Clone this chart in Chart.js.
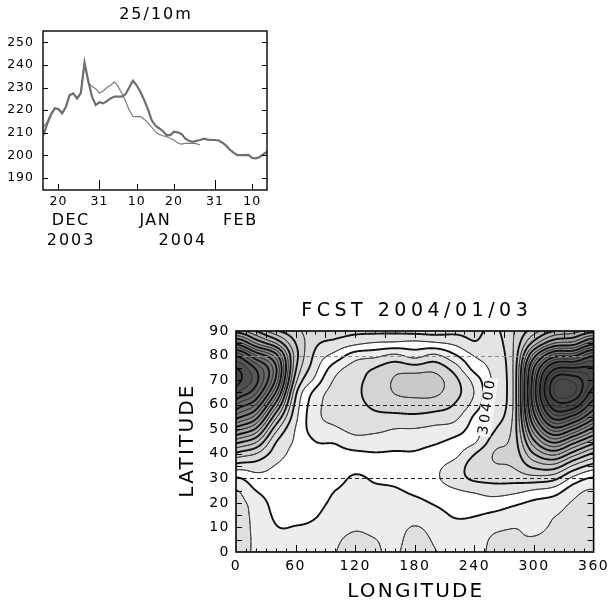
<!DOCTYPE html>
<html>
<head>
<meta charset="utf-8">
<script src="https://cdn.jsdelivr.net/npm/chart.js@4.4.1/dist/chart.umd.min.js"></script>
<style>
  html, body { margin: 0; padding: 0; background: #fff; }
  #wrap { position: relative; width: 613px; height: 603px; overflow: hidden; }
  #ts { position: absolute; left: 0; top: 0; }
  #map { position: absolute; left: 170px; top: 290px; }
</style>
</head>
<body>
<div id="wrap">
  <canvas id="ts" width="280" height="250"></canvas>
  <canvas id="map" width="443" height="313"></canvas>
</div>
<script>
// ---------- top panel: 25/10m temperature, x = days counted from 1 Dec 2003 ----------
let firstDay = 15;
let analysis = [209, 214, 218, 220.8, 220.5, 218.6, 221.5, 226.7, 227.4, 225.2,
  227.5, 241, 233, 226, 222.3, 223.5, 223, 224, 225.2, 226,
  226, 226, 227, 230, 233, 231, 228, 224.5, 220.5, 215.6,
  213.2, 212, 210.8, 209, 209, 210.5, 210.2, 209.5, 207.5, 206.5,
  206, 206.4, 206.8, 207.4, 207, 206.8, 206.8, 206.6, 205.6, 204.3,
  202.5, 201.2, 200.1, 200.1, 200.1, 200.2, 198.9, 198.7, 199.3, 200.6, 201.6];
let forecast = [212.5, 215, 218.5, 221, 220.5, 218.6, 221.5, 226.5, 227.2, 225,
  227.5, 241, 232, 230.5, 229.5, 227.5, 228.5, 230, 231, 232.5,
  230.5, 227.5, 224, 220, 217.2, 217.1, 217.1, 216, 214.5, 212.5,
  210.5, 209.3, 208.7, 208.3, 207.6, 206.8, 205.5, 205, 205.3, 205.3,
  205.3, 205.2, 204.6];
let tickDays = [19, 30, 40, 50, 61, 71];
let tickLabels = ["20", "31", "10", "20", "31", "10"];
let longTickDays = [30, 61];
let monthNames = ["DEC", "JAN", "FEB"];
let monthDays = [22.3, 45, 67.8];
let yearNames = ["2003", "2004"];
let yearDays = [22.4, 52.4];
let tempTicks = [190, 200, 210, 220, 230, 240, 250];

// ---------- bottom panel: height field, one array per longitude, lat 0..90 step 5 ----------
let gridLats = [0, 5, 10, 15, 20, 25, 30, 35, 40, 45, 50, 55, 60, 65, 70, 75, 80, 85, 90];
let gridLons = [0, 20, 40, 60, 80, 100, 120, 140, 160, 180, 200, 220, 240, 260, 280, 300, 320, 340];
let lon000 = [2.4, 2.4, 2.4, 2.35, 2.3, 2.05, 1.1, -0.6, -2.8, -5.5, -8.5, -11.5, -14.0, -16.3, -17.5, -17.0, -14.8, -10.5, -6.5];
let lon020 = [1.85, 1.85, 1.8, 1.75, 1.6, 1.0, 0.35, -0.5, -2.0, -4.2, -6.8, -9.5, -12.0, -14.2, -15.4, -14.8, -12.0, -8.0, -5.0];
let lon040 = [1.35, 1.25, 1.05, 0.85, 0.65, 0.45, 0.25, 0.05, -0.5, -1.1, -2.4, -4.3, -6.6, -9.0, -10.8, -11.2, -9.5, -6.0, -3.2];
let lon060 = [1.3, 1.2, 1.03, 0.8, 0.6, 0.5, 0.45, 0.4, 0.3, 0.15, 0.05, -0.3, -0.7, -1.3, -2.4, -3.2, -3.5, -3.0, -2.2];
let lon080 = [1.4, 1.3, 1.15, 0.95, 0.8, 0.7, 0.6, 0.55, 0.65, 1.0, 1.5, 1.7, 1.6, 1.3, 0.3, -0.35, -0.75, -1.2, -1.6];
let lon100 = [1.98, 1.85, 1.6, 1.35, 1.15, 1.0, 0.75, 0.6, 0.75, 1.1, 1.85, 2.3, 2.45, 2.4, 2.15, 1.5, 0.35, -0.7, -1.5];
let lon120 = [2.35, 2.2, 1.9, 1.6, 1.4, 1.25, 1.1, 0.8, 0.85, 1.6, 2.3, 2.65, 2.8, 2.85, 2.75, 2.45, 1.5, -0.2, -1.3];
let lon140 = [2.1, 2.02, 1.75, 1.5, 1.3, 1.15, 0.9, 0.7, 0.95, 1.5, 2.25, 2.8, 3.15, 3.35, 3.35, 3.0, 1.75, 0.1, -1.3];
let lon160 = [1.9, 1.8, 1.7, 1.5, 1.3, 1.1, 0.75, 0.6, 0.9, 1.4, 1.98, 2.75, 3.5, 4.05, 4.1, 3.6, 2.2, 0.2, -1.3];
let lon180 = [2.4, 2.3, 2.05, 1.6, 1.25, 0.8, 0.4, 0.5, 0.9, 1.35, 1.95, 2.8, 3.6, 4.25, 4.5, 3.4, 1.65, 0.3, -1.4];
let lon200 = [2.05, 1.9, 1.7, 1.4, 0.9, 0.45, 0.15, 0.2, 0.6, 1.15, 1.75, 2.6, 3.5, 4.2, 4.35, 3.6, 2.2, 0.15, -1.5];
let lon220 = [1.6, 1.5, 1.3, 0.9, 0.45, 0.1, -0.5, -0.35, 0.3, 0.75, 1.5, 2.3, 2.95, 3.4, 3.3, 2.5, 1.15, -0.2, -1.3];
let lon240 = [1.55, 1.5, 1.35, 0.95, 0.45, -0.15, -1.2, -1.5, -0.95, 0.15, 0.5, 0.85, 1.6, 1.95, 1.6, 0.6, -0.05, -0.9, -1.3];
let lon260 = [2.3, 2.15, 1.8, 1.2, 0.45, -0.45, -1.35, -1.9, -2.05, -1.55, -0.9, -0.5, -0.35, -0.3, -0.3, -0.35, -0.4, -0.55, -0.8];
let lon280 = [2.1, 2.05, 1.98, 1.5, 0.8, -0.3, -1.4, -2.1, -2.4, -2.5, -2.5, -2.4, -2.3, -2.3, -2.3, -2.3, -2.2, -2.1, -2.0];
let lon300 = [2.15, 2.05, 1.85, 1.6, 1.2, 0.1, -1.6, -3.3, -5.0, -6.8, -8.7, -10.5, -11.8, -12.3, -12.0, -11.0, -8.5, -5.5, -3.5];
let lon320 = [2.2, 2.2, 2.1, 1.95, 1.5, 0.45, -1.3, -3.6, -6.3, -9.3, -12.5, -15.5, -18.0, -20.0, -19.4, -16.5, -12.5, -8.0, -5.0];
let lon340 = [2.5, 2.5, 2.4, 2.25, 2.1, 1.6, 0.3, -1.8, -4.5, -7.5, -11.0, -14.5, -18.0, -20.2, -19.7, -17.0, -12.8, -8.5, -5.5];
let columns = [lon000, lon020, lon040, lon060, lon080, lon100, lon120, lon140, lon160,
  lon180, lon200, lon220, lon240, lon260, lon280, lon300, lon320, lon340];
let contourLabel = "30400";
let labelLon = 253;
let labelLat = 59;
let dashedLats = [30, 60];
let lightDashedLats = [80];

Chart.defaults.font.family = "'DejaVu Sans', sans-serif";
Chart.defaults.color = "#000";

// ---------- field helpers ----------
let dLon = 20, dLat = 5;
let NC = columns.length, NR = gridLats.length;

function node(c, r) {
  c = ((c % NC) + NC) % NC; // longitude wraps round
  if (r < 0) return 2 * columns[c][0] - columns[c][1];
  if (r >= NR) return 2 * columns[c][NR - 1] - columns[c][NR - 2];
  return columns[c][r];
}

function spline(p0, p1, p2, p3, t) {
  return p1 + 0.5 * t * (p2 - p0 + t * (2 * p0 - 5 * p1 + 4 * p2 - p3 + t * (3 * (p1 - p2) + p3 - p0)));
}

function field(lon, lat) {
  let fx = lon / dLon, fy = lat / dLat;
  let ix = Math.floor(fx), iy = Math.floor(fy);
  if (iy > NR - 2) iy = NR - 2;
  if (iy < 0) iy = 0;
  let tx = fx - ix, ty = fy - iy;
  let col = [];
  for (let m = -1; m <= 2; m++) {
    col.push(spline(node(ix - 1, iy + m), node(ix, iy + m), node(ix + 1, iy + m), node(ix + 2, iy + m), tx));
  }
  return spline(col[0], col[1], col[2], col[3], ty);
}

// grey for each contour band (white band between 0 and 1)
let highGreys = [255, 237, 223, 212, 201, 190];
function shadeOf(v) {
  if (v >= 0) return highGreys[Math.min(5, Math.floor(v))];
  let n = Math.ceil(-v);
  return Math.max(72, 228 - (n - 1) * 9.3);
}

// marching squares on a sampled grid
function isoSegments(S, nx, ny, level) {
  let segs = [];
  for (let j = 0; j < ny; j++) {
    for (let i = 0; i < nx; i++) {
      let a = S[j][i], b = S[j][i + 1], c = S[j + 1][i + 1], d = S[j + 1][i];
      let idx = (a > level ? 1 : 0) | (b > level ? 2 : 0) | (c > level ? 4 : 0) | (d > level ? 8 : 0);
      if (idx === 0 || idx === 15) continue;
      let e = [
        [i + (level - a) / (b - a), j],
        [i + 1, j + (level - b) / (c - b)],
        [i + 1 - (level - c) / (d - c), j + 1],
        [i, j + 1 - (level - d) / (a - d)]
      ];
      let center = (a + b + c + d) / 4 > level;
      let pairs;
      switch (idx) {
        case 1: case 14: pairs = [[3, 0]]; break;
        case 2: case 13: pairs = [[0, 1]]; break;
        case 3: case 12: pairs = [[3, 1]]; break;
        case 4: case 11: pairs = [[1, 2]]; break;
        case 6: case 9: pairs = [[0, 2]]; break;
        case 7: case 8: pairs = [[3, 2]]; break;
        case 5: pairs = center ? [[0, 1], [2, 3]] : [[3, 0], [1, 2]]; break;
        case 10: pairs = center ? [[3, 0], [1, 2]] : [[0, 1], [2, 3]]; break;
      }
      pairs.forEach(p => segs.push([e[p[0]], e[p[1]]]));
    }
  }
  return segs;
}

// ---------- top chart ----------
function seriesPoints(values) {
  let pts = [];
  for (let i = 0; i < values.length; i++) pts.push({ x: firstDay + i, y: values[i] });
  return pts;
}

let tsDecor = {
  id: "tsDecor",
  beforeDraw(chart) {
    chart.ctx.letterSpacing = "1px";
  },
  afterDraw(chart) {
    let ctx = chart.ctx;
    let a = chart.chartArea;
    let x = chart.scales.x, y = chart.scales.y;
    ctx.save();
    ctx.strokeStyle = "#000";
    ctx.lineWidth = 1;
    ctx.beginPath();
    tempTicks.forEach(v => {
      let py = Math.round(y.getPixelForValue(v)) + 0.5;
      ctx.moveTo(a.left, py); ctx.lineTo(a.left + 5, py);
      ctx.moveTo(a.right, py); ctx.lineTo(a.right - 5, py);
    });
    tickDays.forEach(d => {
      let px = Math.round(x.getPixelForValue(d)) + 0.5;
      let len = longTickDays.includes(d) ? 10 : 6;
      ctx.moveTo(px, a.bottom); ctx.lineTo(px, a.bottom - len);
    });
    ctx.stroke();
    ctx.lineWidth = 1.4;
    ctx.strokeRect(a.left, a.top, a.right - a.left, a.bottom - a.top);

    ctx.fillStyle = "#000";
    ctx.textAlign = "center";
    ctx.textBaseline = "middle";
    ctx.font = "16px 'DejaVu Sans'";
    ctx.letterSpacing = "2px";
    ctx.fillText("25/10m", (a.left + a.right) / 2 + 1, 14.5);
    ctx.letterSpacing = "1.5px";
    monthNames.forEach((m, i) => ctx.fillText(m, x.getPixelForValue(monthDays[i]), 221));
    ctx.letterSpacing = "2px";
    yearNames.forEach((m, i) => ctx.fillText(m, x.getPixelForValue(yearDays[i]), 241));
    ctx.restore();
  }
};

new Chart(document.getElementById("ts"), {
  type: "line",
  data: {
    datasets: [
      { label: "analysis", data: seriesPoints(analysis), borderColor: "#6f6f6f", borderWidth: 2.2, pointRadius: 0, tension: 0 },
      { label: "forecast", data: seriesPoints(forecast), borderColor: "#7c7c7c", borderWidth: 1.2, pointRadius: 0, tension: 0 }
    ]
  },
  options: {
    responsive: false,
    animation: false,
    layout: { padding: { left: 0, right: 13, top: 31, bottom: 0 } },
    plugins: { legend: { display: false }, tooltip: { enabled: false }, title: { display: false } },
    scales: {
      x: {
        type: "linear", min: 14.86, max: 74.96,
        grid: { display: false, drawTicks: false }, border: { display: false },
        afterBuildTicks: s => { s.ticks = tickDays.map(d => ({ value: d })); },
        afterFit: s => { s.height = 60; },
        ticks: {
          autoSkip: false, maxRotation: 0, padding: 4,
          font: { size: 12.5 },
          callback: v => tickLabels[tickDays.indexOf(v)]
        }
      },
      y: {
        type: "linear", min: 184.7, max: 255,
        grid: { display: false, drawTicks: false }, border: { display: false },
        afterBuildTicks: s => { s.ticks = tempTicks.map(v => ({ value: v })); },
        afterFit: s => { s.width = 43; },
        ticks: { padding: 9, font: { size: 12.5 } }
      }
    }
  },
  plugins: [tsDecor]
});

// ---------- bottom chart ----------
let mapLayer = {
  id: "mapLayer",
  beforeDraw(chart) {
    chart.ctx.letterSpacing = "1.5px";
  },
  beforeDatasetsDraw(chart) {
    let ctx = chart.ctx;
    let a = chart.chartArea;
    let x = chart.scales.x, y = chart.scales.y;
    let w = Math.round(a.right - a.left), h = Math.round(a.bottom - a.top);

    // shaded bands
    let off = document.createElement("canvas");
    off.width = w; off.height = h;
    let octx = off.getContext("2d");
    let img = octx.createImageData(w, h);
    for (let j = 0; j < h; j++) {
      let lat = y.getValueForPixel(a.top + j + 0.5);
      for (let i = 0; i < w; i++) {
        let lon = x.getValueForPixel(a.left + i + 0.5);
        let g = shadeOf(field(lon, lat));
        let k = (j * w + i) * 4;
        img.data[k] = g; img.data[k + 1] = g; img.data[k + 2] = g; img.data[k + 3] = 255;
      }
    }
    octx.putImageData(img, 0, 0);
    ctx.drawImage(off, a.left, a.top);

    // contour lines
    let stepLon = 1, stepLat = 0.5;
    let nx = 360, ny = 180;
    let S = [];
    for (let j = 0; j <= ny; j++) {
      let row = [];
      for (let i = 0; i <= nx; i++) row.push(field(i * stepLon, j * stepLat));
      S.push(row);
    }
    ctx.save();
    ctx.beginPath();
    ctx.rect(a.left, a.top, a.right - a.left, a.bottom - a.top);
    ctx.clip();
    ctx.lineCap = "round";
    ctx.lineJoin = "round";
    for (let level = -22; level <= 5; level++) {
      let segs = isoSegments(S, nx, ny, level);
      if (!segs.length) continue;
      let thick = Math.abs(level) % 2 === 1;
      ctx.strokeStyle = thick ? "#111" : "#333";
      ctx.lineWidth = thick ? 1.9 : 0.9;
      ctx.beginPath();
      segs.forEach(s => {
        ctx.moveTo(x.getPixelForValue(s[0][0] * stepLon), y.getPixelForValue(s[0][1] * stepLat));
        ctx.lineTo(x.getPixelForValue(s[1][0] * stepLon), y.getPixelForValue(s[1][1] * stepLat));
      });
      ctx.stroke();
    }

    // dashed latitude lines
    ctx.lineCap = "butt";
    ctx.lineWidth = 1;
    ctx.setLineDash([4, 3]);
    ctx.strokeStyle = "#222";
    ctx.beginPath();
    dashedLats.forEach(l => {
      let py = Math.round(y.getPixelForValue(l)) + 0.5;
      ctx.moveTo(a.left, py); ctx.lineTo(a.right, py);
    });
    ctx.stroke();
    ctx.strokeStyle = "#8a8a8a";
    ctx.beginPath();
    lightDashedLats.forEach(l => {
      let py = Math.round(y.getPixelForValue(l)) + 0.5;
      ctx.moveTo(a.left, py); ctx.lineTo(a.right, py);
    });
    ctx.stroke();
    ctx.setLineDash([]);

    // contour label
    ctx.translate(x.getPixelForValue(labelLon), y.getPixelForValue(labelLat));
    ctx.rotate(-82 * Math.PI / 180);
    ctx.font = "14px 'DejaVu Sans'";
    ctx.letterSpacing = "2.5px";
    let tw = ctx.measureText(contourLabel).width;
    ctx.fillStyle = "#f6f6f6";
    ctx.fillRect(-tw / 2 - 1, -7, tw + 2, 14);
    ctx.fillStyle = "#000";
    ctx.textAlign = "center";
    ctx.textBaseline = "middle";
    ctx.fillText(contourLabel, 1, 0);
    ctx.restore();
  },
  afterDraw(chart) {
    let ctx = chart.ctx;
    let a = chart.chartArea;
    let x = chart.scales.x, y = chart.scales.y;
    ctx.save();
    ctx.strokeStyle = "#000";
    ctx.lineWidth = 1;
    ctx.beginPath();
    for (let lon = 10; lon < 360; lon += 10) {
      let px = Math.round(x.getPixelForValue(lon)) + 0.5;
      let lb = lon % 60 === 0 ? 7 : 3.5;
      let lt = lon % 30 === 0 ? 7 : 3.5;
      ctx.moveTo(px, a.bottom); ctx.lineTo(px, a.bottom - lb);
      ctx.moveTo(px, a.top); ctx.lineTo(px, a.top + lt);
    }
    for (let lat = 5; lat < 90; lat += 5) {
      let py = Math.round(y.getPixelForValue(lat)) + 0.5;
      ctx.moveTo(a.left, py); ctx.lineTo(a.left + 6, py);
      ctx.moveTo(a.right, py); ctx.lineTo(a.right - 6, py);
    }
    ctx.stroke();
    ctx.lineWidth = 1.6;
    ctx.strokeRect(a.left, a.top, a.right - a.left, a.bottom - a.top);

    ctx.fillStyle = "#000";
    ctx.textAlign = "center";
    ctx.textBaseline = "middle";
    ctx.font = "19px 'DejaVu Sans'";
    ctx.letterSpacing = "4.5px";
    ctx.fillText("FCST 2004/01/03", (a.left + a.right) / 2 + 2, 21.5);
    ctx.font = "20px 'DejaVu Sans'";
    ctx.letterSpacing = "2.2px";
    ctx.fillText("LONGITUDE", (a.left + a.right) / 2 + 1, 301.5);
    ctx.translate(18, (a.top + a.bottom) / 2);
    ctx.rotate(-Math.PI / 2);
    ctx.fillText("LATITUDE", 1, 0);
    ctx.restore();
  }
};

let gridPoints = [];
columns.forEach((col, c) => col.forEach((v, r) => gridPoints.push({ x: gridLons[c], y: gridLats[r], v: v })));

new Chart(document.getElementById("map"), {
  type: "scatter",
  data: { datasets: [{ label: "height", data: gridPoints, pointRadius: 0, showLine: false }] },
  options: {
    responsive: false,
    animation: false,
    layout: { padding: { left: 0, right: 18, top: 41, bottom: 0 } },
    plugins: { legend: { display: false }, tooltip: { enabled: false }, title: { display: false } },
    scales: {
      x: {
        type: "linear", min: 0, max: 360,
        grid: { display: false, drawTicks: false }, border: { display: false },
        afterFit: s => { s.height = 51; },
        ticks: { stepSize: 60, autoSkip: false, maxRotation: 0, padding: 6, font: { size: 14 } }
      },
      y: {
        type: "linear", min: 0, max: 90,
        grid: { display: false, drawTicks: false }, border: { display: false },
        afterFit: s => { s.width = 66; },
        ticks: { stepSize: 10, padding: 6, font: { size: 14 } }
      }
    }
  },
  plugins: [mapLayer]
});
</script>
</body>
</html>
